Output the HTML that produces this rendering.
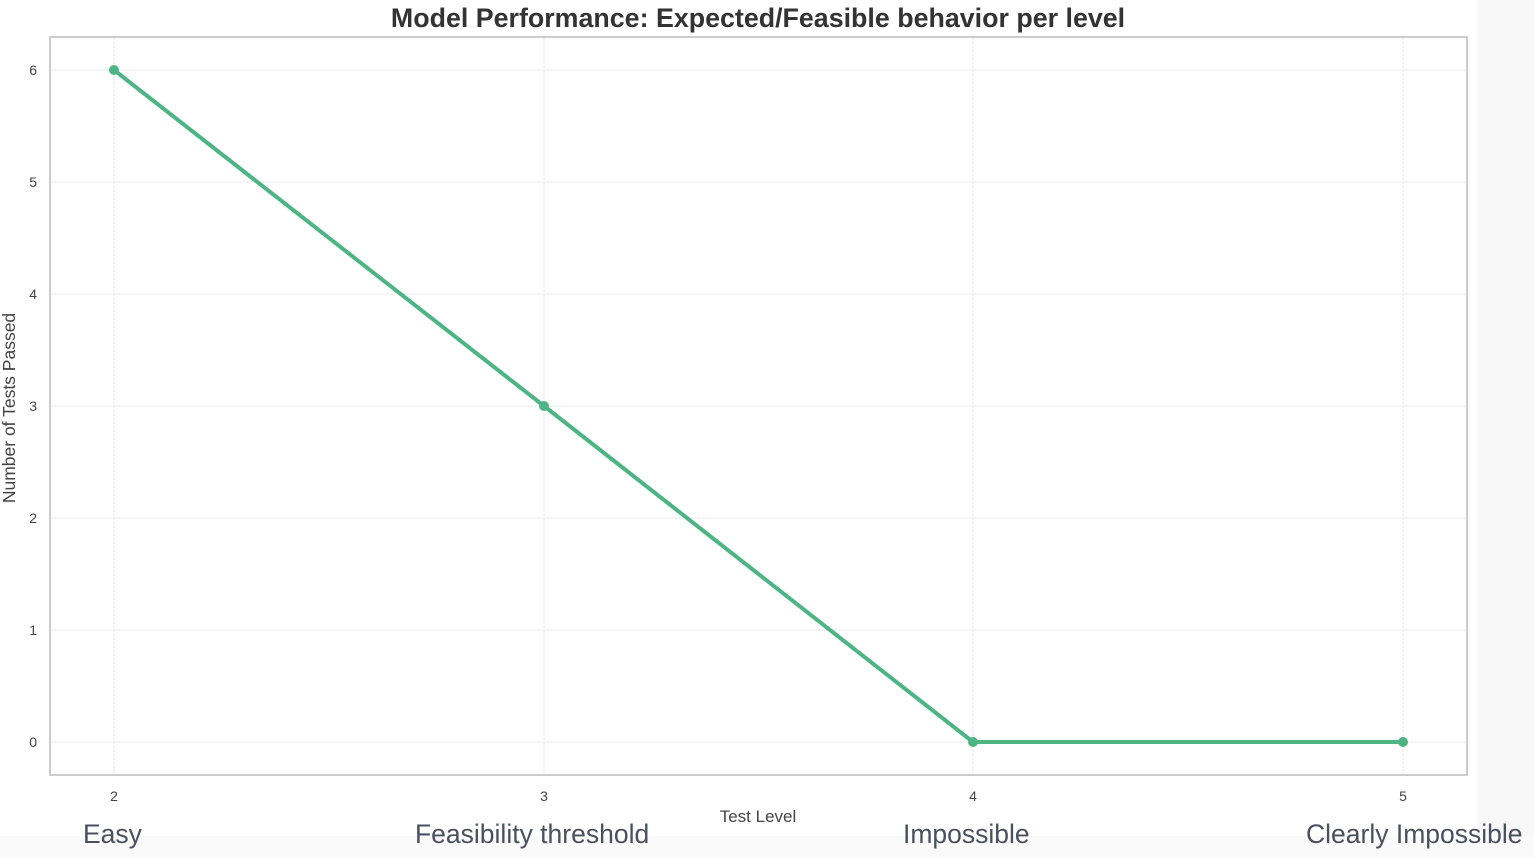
<!DOCTYPE html>
<html><head><style>
body{margin:0;background:#fff;}
svg{display:block}
</style></head><body>
<svg width="1534" height="858" xmlns="http://www.w3.org/2000/svg" font-family="Liberation Sans, sans-serif">
<rect x="0" y="0" width="1534" height="858" fill="#fff"/>
<rect x="1477" y="0" width="57" height="858" fill="#f8f8f8"/>
<rect x="0" y="836" width="1534" height="22" fill="#fafafa"/>
<g stroke="#e6e6e6" stroke-width="1" stroke-dasharray="3,1">
<line x1="50" x2="1467" y1="70" y2="70"/><line x1="50" x2="1467" y1="182" y2="182"/>
<line x1="50" x2="1467" y1="294" y2="294"/><line x1="50" x2="1467" y1="406" y2="406"/>
<line x1="50" x2="1467" y1="518" y2="518"/><line x1="50" x2="1467" y1="630" y2="630"/>
<line x1="50" x2="1467" y1="742" y2="742"/>
<line y1="37" y2="775" x1="114" x2="114"/><line y1="37" y2="775" x1="544" x2="544"/>
<line y1="37" y2="775" x1="973" x2="973"/><line y1="37" y2="775" x1="1403" x2="1403"/>
</g>
<rect x="50" y="37" width="1417" height="738" fill="none" stroke="#cccccc" stroke-width="2"/>
<polyline points="114,70 544,406 973,742 1403,742" fill="none" stroke="#4db584" stroke-width="4" stroke-linejoin="round"/>
<g fill="#4db584"><circle cx="114" cy="70" r="5"/><circle cx="544" cy="406" r="5"/><circle cx="973" cy="742" r="5"/><circle cx="1403" cy="742" r="5"/></g>
<g font-size="14" fill="#444" text-anchor="end">
<text x="37" y="75">6</text><text x="37" y="187">5</text><text x="37" y="299">4</text><text x="37" y="411">3</text><text x="37" y="523">2</text><text x="37" y="635">1</text><text x="37" y="747">0</text>
</g>
<g font-size="14" fill="#444" text-anchor="middle">
<text x="114" y="801">2</text><text x="544" y="801">3</text><text x="973" y="801">4</text><text x="1403" y="801">5</text>
<text x="758" y="822" font-size="17">Test Level</text>
</g>
<text transform="translate(15,408) rotate(-90)" font-size="17.5" fill="#444" text-anchor="middle">Number of Tests Passed</text>
<text x="758" y="27" font-size="26.8" font-weight="bold" fill="#333" text-anchor="middle">Model Performance: Expected/Feasible behavior per level</text>
<g font-size="26.5" fill="#4a5060">
<text x="83" y="843">Easy</text>
<text x="415" y="843">Feasibility threshold</text>
<text x="903" y="843">Impossible</text>
<text x="1306" y="843">Clearly Impossible</text>
</g>
</svg>
</body></html>
